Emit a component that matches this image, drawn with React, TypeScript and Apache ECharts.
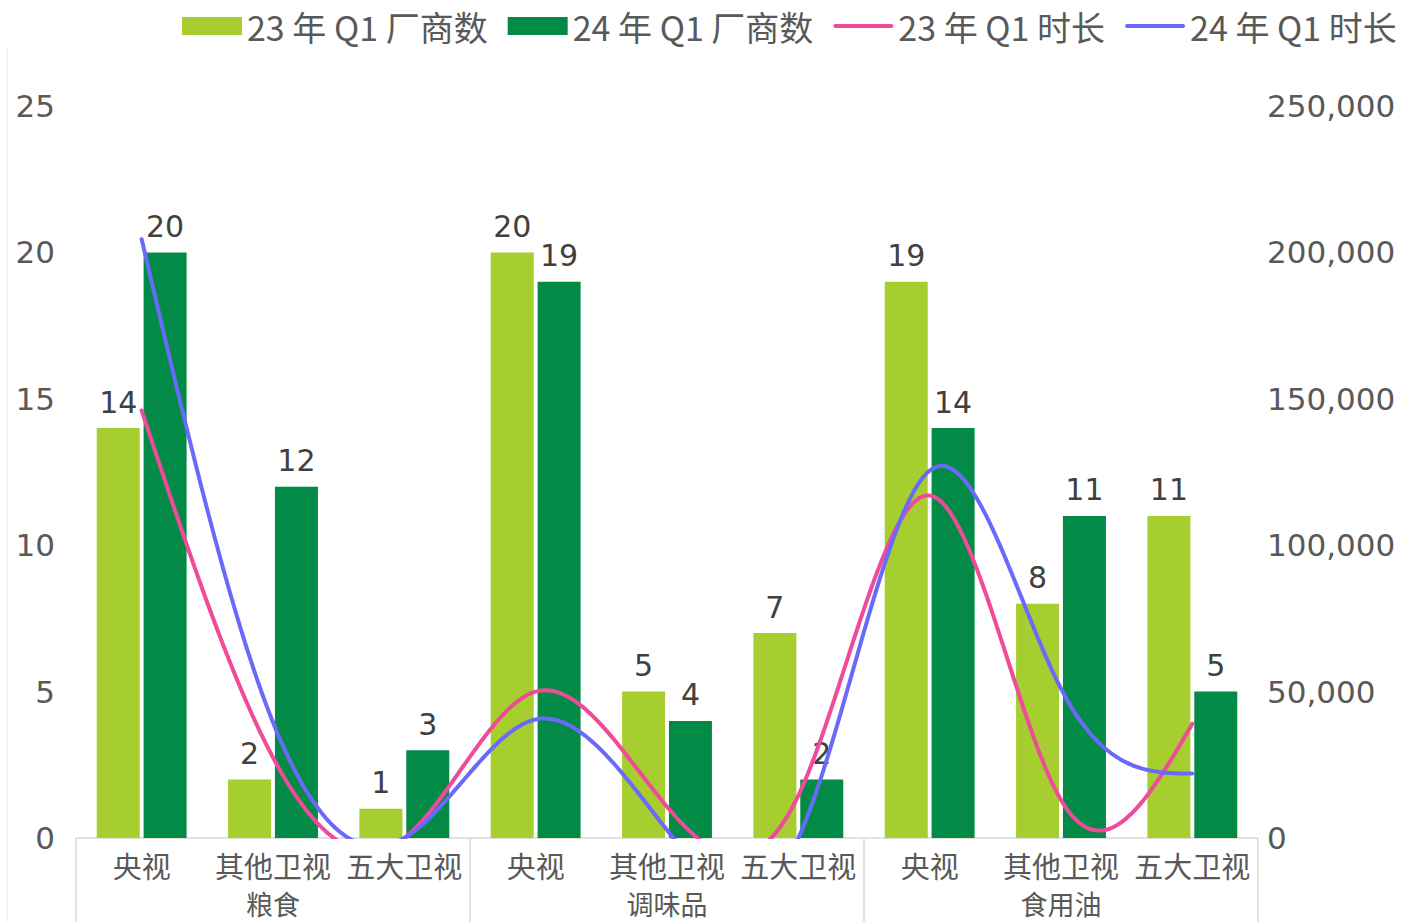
import React, { useEffect, useRef } from "react";
import * as echarts from "echarts";

const categories = ["央视", "其他卫视", "五大卫视", "央视", "其他卫视", "五大卫视", "央视", "其他卫视", "五大卫视"];
const groups = ["粮食", "调味品", "食用油"];
const seriesNames = ["23 年 Q1 厂商数", "24 年 Q1 厂商数", "23 年 Q1 时长", "24 年 Q1 时长"];
const vendors23 = [14, 2, 1, 20, 5, 7, 19, 8, 11];
const vendors24 = [20, 12, 3, 19, 4, 2, 14, 11, 5];
const duration23 = [146000, 27500, 0, 50000, 10700, 14500, 117000, 13000, 39000];
const duration24 = [204500, 39500, 0, 40500, 2700, 0, 125500, 51000, 22000];
const leftTicks = { min: 0, max: 25, interval: 5 };
const rightTicks = { min: 0, max: 250000, interval: 50000 };

const LIGHT = "#A6CE2E";
const DARK = "#038A46";
const PINK = "#F04A9A";
const BLUE = "#6A6AFA";
const AXIS_TEXT = "#595959";
const LABEL_TEXT = "#404040";
const CJK = "'Noto Sans CJK SC', 'Noto Sans', sans-serif";
const NUM = "'DejaVu Sans', sans-serif";
const LINE_ICON =
  "path://M2,0L58,0C59.1,0,60,0.9,60,2C60,3.1,59.1,4,58,4L2,4C0.9,4,0,3.1,0,2C0,0.9,0.9,0,2,0Z";

// natural cubic spline second derivatives (uniform spacing)
function splineSecond(ys: number[]): number[] {
  const n = ys.length;
  const m = new Array(n).fill(0);
  if (n < 3) return m;
  const c: number[] = new Array(n).fill(0);
  const d: number[] = new Array(n).fill(0);
  for (let i = 1; i < n - 1; i++) {
    const rhs = 6 * (ys[i + 1] - 2 * ys[i] + ys[i - 1]);
    const denom = 4 - (i > 1 ? c[i - 1] : 0);
    c[i] = 1 / denom;
    d[i] = (rhs - (i > 1 ? d[i - 1] : 0)) / denom;
  }
  for (let i = n - 2; i >= 1; i--) {
    m[i] = d[i] - c[i] * (i < n - 2 ? m[i + 1] : 0);
  }
  return m;
}

function makeSplineSeries(name: string, values: number[], color: string) {
  return {
    name,
    type: "custom",
    xAxisIndex: 0,
    yAxisIndex: 1,
    clip: true,
    z: 5,
    itemStyle: { color },
    lineStyle: { width: 2 },
    data: values.map((v, i) => [i, v]),
    encode: { x: 0, y: 1 },
    renderItem: (params: any, api: any) => {
      if (params.dataIndex !== 0) return null;
      const pts = values.map((v, i) => api.coord([i, v]));
      const ys = pts.map((p: number[]) => p[1]);
      const m = splineSecond(ys);
      const out: number[][] = [];
      const steps = 40;
      for (let i = 0; i < pts.length - 1; i++) {
        const [x0, y0] = pts[i];
        const [x1, y1] = pts[i + 1];
        for (let k = i === 0 ? 0 : 1; k <= steps; k++) {
          const t = k / steps;
          const u = 1 - t;
          const y = u * y0 + t * y1 + ((u * u * u - u) * m[i]) / 6 + ((t * t * t - t) * m[i + 1]) / 6;
          out.push([x0 + t * (x1 - x0), y]);
        }
      }
      return {
        type: "polyline",
        shape: { points: out },
        style: { stroke: color, lineWidth: 4, fill: null, lineCap: "round", lineJoin: "round" },
        silent: true,
      };
    },
  };
}

export default function App() {
  const ref = useRef<HTMLDivElement>(null);
  useEffect(() => {
    const chart = echarts.init(ref.current!, null, { renderer: "svg" });
    const barLabel = {
      show: true,
      position: "top" as const,
      distance: 11,
      fontSize: 30,
      fontFamily: NUM,
      color: LABEL_TEXT,
    };
    chart.setOption({
      animation: false,
      backgroundColor: "#ffffff",
      legend: {
        left: 182,
        right: 0,
        top: 9,
        padding: 0,
        itemWidth: 60,
        itemHeight: 18,
        itemGap: 20,
        symbolKeepAspect: true,
        textStyle: { fontSize: 34, fontFamily: CJK, color: AXIS_TEXT },
        data: [
          { name: seriesNames[0], icon: "rect" },
          { name: seriesNames[1], icon: "rect" },
          { name: seriesNames[2], icon: LINE_ICON, itemStyle: { color: PINK } },
          { name: seriesNames[3], icon: LINE_ICON, itemStyle: { color: BLUE } },
        ],
      },
      graphic: [
        {
          type: "line",
          shape: { x1: 7.5, y1: 48, x2: 7.5, y2: 922 },
          style: { stroke: "#EFEFEF", lineWidth: 1.5 },
          silent: true,
        },
      ],
      grid: { left: 76, right: 144, top: 106, bottom: 84, containLabel: false },
      xAxis: [
        {
          type: "category",
          data: categories,
          position: "bottom",
          axisLine: { show: true, lineStyle: { color: "#D9D9D9", width: 1.5 } },
          axisTick: { show: false },
          axisLabel: {
            interval: 0,
            margin: 13,
            fontSize: 29,
            lineHeight: 28,
            fontFamily: CJK,
            color: AXIS_TEXT,
          },
          splitLine: { show: false },
        },
        {
          type: "category",
          data: groups,
          position: "bottom",
          axisLine: { show: false },
          axisTick: { show: true, length: 84, lineStyle: { color: "#D9D9D9", width: 1.5 } },
          axisLabel: {
            interval: 0,
            margin: 52,
            fontSize: 27,
            lineHeight: 26,
            fontFamily: CJK,
            color: AXIS_TEXT,
          },
          splitLine: { show: false },
        },
      ],
      yAxis: [
        {
          type: "value",
          ...leftTicks,
          position: "left",
          axisLine: { show: false },
          axisTick: { show: false },
          splitLine: { show: false },
          axisLabel: { margin: 21, fontSize: 31, fontFamily: NUM, color: AXIS_TEXT },
        },
        {
          type: "value",
          ...rightTicks,
          position: "right",
          axisLine: { show: false },
          axisTick: { show: false },
          splitLine: { show: false },
          axisLabel: {
            margin: 9,
            fontSize: 31,
            fontFamily: NUM,
            color: AXIS_TEXT,
            formatter: (v: number) => v.toLocaleString("en-US"),
          },
        },
      ],
      series: [
        {
          name: seriesNames[0],
          type: "bar",
          xAxisIndex: 0,
          yAxisIndex: 0,
          data: vendors23,
          barWidth: 43,
          barGap: "9%",
          itemStyle: { color: LIGHT },
          label: barLabel,
          z: 2,
        },
        {
          name: seriesNames[1],
          type: "bar",
          xAxisIndex: 0,
          yAxisIndex: 0,
          data: vendors24,
          barWidth: 43,
          barGap: "9%",
          itemStyle: { color: DARK },
          label: barLabel,
          z: 2,
        },
        makeSplineSeries(seriesNames[2], duration23, PINK),
        makeSplineSeries(seriesNames[3], duration24, BLUE),
      ],
    });
    return () => chart.dispose();
  }, []);
  return (
    <div
      ref={ref}
      style={{ position: "absolute", left: 0, top: 0, width: 1402, height: 922, background: "#fff" }}
    />
  );
}
